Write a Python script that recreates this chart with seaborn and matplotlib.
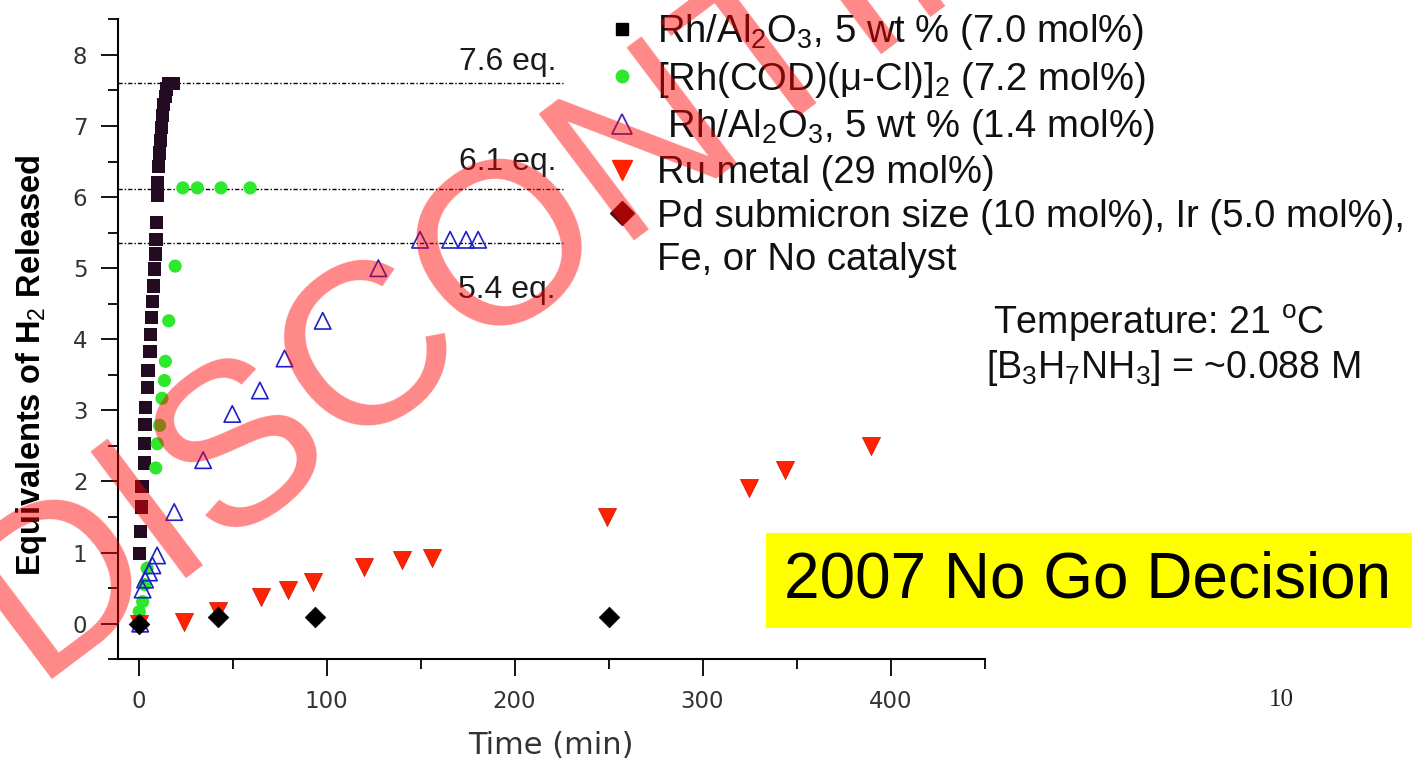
import matplotlib
matplotlib.use("Agg")
import matplotlib.pyplot as plt
import seaborn as sns
import pandas as pd
from matplotlib.lines import Line2D
from matplotlib.patches import Rectangle
from matplotlib.ticker import MultipleLocator
from matplotlib import font_manager as fm

# ---------------- data ----------------
rh7_time = [0.3, 0.8, 1.6, 1.8, 2.9, 3.0, 3.4, 3.6, 4.7, 5.0, 6.0, 6.3, 6.8, 7.2, 8.0, 8.3,
            9.1, 9.2, 9.4, 9.8, 10.2, 10.6, 11.1, 11.6, 12.1, 12.7, 13.4, 14.2, 15.0, 15.8, 17.0, 18.3]
rh7_eq = [0.99, 1.30, 1.64, 1.93, 2.26, 2.53, 2.80, 3.04, 3.32, 3.56, 3.83, 4.07, 4.31, 4.53, 4.75, 4.99,
          5.20, 5.40, 5.64, 6.02, 6.20, 6.43, 6.62, 6.80, 6.98, 7.15, 7.30, 7.42, 7.52, 7.60, 7.60, 7.60]

rhcod_time = [0, 0.3, 2.1, 3.2, 4.5, 9.1, 9.9, 11.1, 12.4, 13.7, 14.2, 16.0, 19.4, 23.5, 31.2, 43.8, 59.3]
rhcod_eq = [0, 0.17, 0.31, 0.55, 0.78, 2.19, 2.53, 2.79, 3.17, 3.42, 3.69, 4.26, 5.03, 6.13, 6.13, 6.13, 6.13]

rh14_time = [0.8, 2.1, 3.4, 5.5, 7.3, 9.8, 18.9, 34.3, 49.8, 64.5, 77.6, 97.9, 127.5, 149.7, 165.7, 174.2, 180.6]
rh14_eq = [0, 0.48, 0.62, 0.72, 0.82, 0.96, 1.57, 2.30, 2.95, 3.28, 3.73, 4.26, 5.00, 5.40, 5.40, 5.40, 5.40]

ru_time = [0, 24, 42, 65.2, 79.4, 93, 119.8, 139.9, 156.2, 249.4, 324.5, 344, 389.5]
ru_eq = [0, 0.03, 0.18, 0.38, 0.48, 0.58, 0.79, 0.89, 0.92, 1.50, 1.91, 2.16, 2.50]

pd_time = [0, 42, 93.6, 250]
pd_eq = [0, 0.10, 0.10, 0.10]

eq_levels = [7.6, 6.12, 5.35]
eq_labels = ["7.6 eq.", "6.1 eq.", "5.4 eq."]
eq_label_y = [7.9, 6.49, 4.69]

legend_labels = [
    "Rh/Al$_2$O$_3$, 5 wt % (7.0 mol%)",
    "[Rh(COD)(\u03bc-Cl)]$_2$ (7.2 mol%)",
    " Rh/Al$_2$O$_3$, 5 wt % (1.4 mol%)",
    "Ru metal (29 mol%)",
    "Pd submicron size (10 mol%), Ir (5.0 mol%),",
    "Fe, or No catalyst",
]

x_ticks_major = [0, 100, 200, 300, 400]

# ---------------- style ----------------
sns.set_theme(style="ticks")
try:
    fm.findfont("Liberation Sans Narrow", fallback_to_default=False)
    TICKFONT, TICKSIZE = "Liberation Sans Narrow", 19
except Exception:
    TICKFONT, TICKSIZE = "DejaVu Sans", 16.5
plt.rcParams["font.family"] = [TICKFONT, "DejaVu Sans"]
plt.rcParams["mathtext.fontset"] = "custom"
plt.rcParams["mathtext.rm"] = "Liberation Sans"
plt.rcParams["mathtext.it"] = "Liberation Sans:italic"
plt.rcParams["mathtext.bf"] = "Liberation Sans:bold"
SANS = "Liberation Sans"

W, H = 1412, 762
fig = plt.figure(figsize=(W / 100, H / 100), dpi=100)
fig.patch.set_facecolor("white")
ax = fig.add_axes([118 / W, 1 - 659.2 / H, (984.5 - 118) / W, (659.2 - 19.4) / H])
ax.set_facecolor("white")

# ---------------- data marks ----------------
sns.scatterplot(x=rh7_time, y=rh7_eq, ax=ax, marker="s", s=90, color="#230b22",
                edgecolor="none", linewidth=0, zorder=3)
sns.scatterplot(x=rhcod_time, y=rhcod_eq, ax=ax, marker="o", s=90, color="#2ee82e",
                edgecolor="none", linewidth=0, zorder=4)
sns.scatterplot(x=rh14_time, y=rh14_eq, ax=ax, marker="^", s=140, facecolor="none",
                edgecolor="#1f1fcc", linewidth=1.2, zorder=5)
sns.scatterplot(x=ru_time, y=ru_eq, ax=ax, marker="v", s=170, color="#ff2200",
                edgecolor="#d01000", linewidth=0.5, zorder=6)
sns.scatterplot(x=pd_time, y=pd_eq, ax=ax, marker="D", s=110, color="black",
                edgecolor="black", linewidth=0.5, zorder=7)

ax.hlines(eq_levels, xmin=-11, xmax=226, colors="black", linewidth=1.0,
          linestyles=[(0, (3, 1.5, 1, 1.5))], zorder=2)
for lab, ly in zip(eq_labels, eq_label_y):
    ax.text(222, ly, lab, ha="right", va="center", fontsize=23, family=SANS, color="#1a1a1a")

# ---------------- axes ----------------
ax.set_xlim(-11, 450)
ax.set_ylim(-0.5, 8.5)
ax.set_xticks(x_ticks_major)
ax.xaxis.set_minor_locator(MultipleLocator(50))
ax.yaxis.set_major_locator(MultipleLocator(1))
ax.yaxis.set_minor_locator(MultipleLocator(0.5))
for side in ["top", "right"]:
    ax.spines[side].set_visible(False)
for side in ["left", "bottom"]:
    ax.spines[side].set_linewidth(1.5)
    ax.spines[side].set_color("black")
ax.tick_params(which="major", length=12, width=1.3, direction="out", color="black",
               labelsize=TICKSIZE, labelcolor="#333333")
ax.tick_params(which="minor", length=7, width=1.3, direction="out", color="black")
ax.tick_params(axis="x", which="major", pad=10)
ax.tick_params(axis="y", which="major", pad=10)

ax.set_xlabel("Time (min)", fontsize=22, color="#333333", va="top")
ax.xaxis.set_label_coords(0.5, -0.113)
ax.set_ylabel("Equivalents of H$_2$ Released", family=SANS, fontsize=23.5,
              fontweight="bold", color="black")
ax.yaxis.set_label_coords(-0.08, 0.46)

# ---------------- legend ----------------
handles = [
    Line2D([], [], ls="none", marker="s", ms=9, mfc="black", mec="black"),
    Line2D([], [], ls="none", marker="o", ms=9, mfc="#2ee82e", mec="#2ee82e"),
    Line2D([], [], ls="none", marker="^", ms=14, mfc="none", mec="#4a28b0", mew=1.3),
    Line2D([], [], ls="none", marker="v", ms=15, mfc="#ff2200", mec="#ff2200"),
    Line2D([], [], ls="none", marker="D", ms=12, mfc="#5a0a0a", mec="#5a0a0a"),
    Line2D([], [], ls="none", marker=None),
]
leg = fig.legend(handles, legend_labels, loc="upper left",
                 bbox_to_anchor=(607 / W, 1 - 12 / H), bbox_transform=fig.transFigure,
                 frameon=False, borderpad=0, borderaxespad=0, handlelength=0.8,
                 handletextpad=0.52, labelspacing=0.2,
                 prop={"family": SANS, "size": 27.5})
for t in leg.get_texts():
    t.set_color("#111111")

# ---------------- annotations ----------------
fig.text(993 / W, 1 - 323 / H, "Temperature: 21 $^{\\mathrm{o}}$C", family=SANS, fontsize=27,
         ha="left", va="center", color="#111111")
fig.text(986 / W, 1 - 368 / H, "[B$_3$H$_7$NH$_3$] = ~0.088 M", family=SANS, fontsize=27,
         ha="left", va="center", color="#111111")

fig.patches.append(Rectangle((766 / W, 1 - 628 / H), (W - 766) / W, 95 / H,
                             transform=fig.transFigure, facecolor="#ffff00",
                             edgecolor="none", zorder=1))
fig.text(1088 / W, 1 - 581 / H, "2007 No Go Decision", family=SANS, fontsize=46,
         ha="center", va="center", color="black", zorder=2)

fig.text(1281 / W, 1 - 700 / H, "10", family="Liberation Serif", fontsize=18,
         ha="center", va="center", color="#222222")

# watermark
fig.text(733 / W, 1 - 152 / H, "DISCONTINUED", family=SANS, fontsize=166,
         rotation=37, rotation_mode="anchor", ha="center", va="baseline",
         color="red", alpha=0.47, zorder=100)

fig.savefig("out.png", dpi=100, facecolor="white")
